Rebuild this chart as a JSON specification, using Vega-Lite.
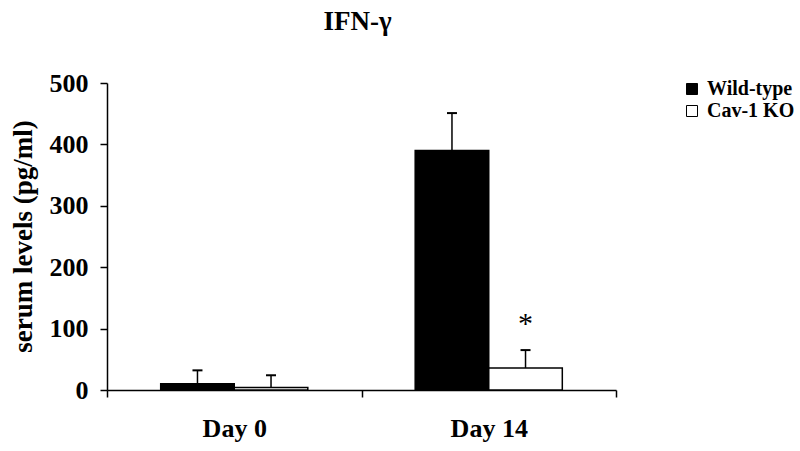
{
  "$schema": "https://vega.github.io/schema/vega-lite/v6.json",
  "width": 509,
  "height": 307,
  "autosize": {"type": "none"},
  "padding": {"left": 107, "top": 83, "right": 184, "bottom": 61},
  "background": "white",
  "config": {"view": {"stroke": null}},
  "title": {"text": "IFN-γ", "font": "Liberation Serif", "fontSize": 27, "fontWeight": "bold", "anchor": "middle", "offset": 34, "color": "black", "dx": -4},
  "data": {"values": [
    {"day": "Day 0", "group": "Wild-type", "mean": 10, "upper": 32, "sig": ""},
    {"day": "Day 0", "group": "Cav-1 KO", "mean": 4, "upper": 24, "sig": ""},
    {"day": "Day 14", "group": "Wild-type", "mean": 390, "upper": 451, "sig": ""},
    {"day": "Day 14", "group": "Cav-1 KO", "mean": 36, "upper": 65, "sig": "*"}
  ]},
  "encoding": {
    "x": {"field": "day", "type": "nominal", "sort": ["Day 0", "Day 14"],
      "scale": {"paddingInner": 0, "paddingOuter": 0},
      "axis": {"title": null, "labelAngle": 0, "labelFont": "Liberation Serif", "labelFontSize": 26, "labelFontWeight": "bold", "labelColor": "black", "labelPadding": 18, "tickBand": "extent", "tickSize": 7, "tickColor": "black", "tickWidth": 1.5, "domainColor": "black", "domainWidth": 1.5}},
    "xOffset": {"field": "group", "type": "nominal", "sort": ["Wild-type", "Cav-1 KO"], "scale": {"paddingInner": 0, "paddingOuter": 0.73}}
  },
  "layer": [
    {
      "mark": {"type": "bar", "stroke": "black", "strokeWidth": 1.5, "opacity": 1},
      "encoding": {
        "y": {"field": "mean", "type": "quantitative", "scale": {"domain": [0, 500], "nice": false},
          "axis": {"title": "serum levels (pg/ml)", "titleFont": "Liberation Serif", "titleFontSize": 27, "titleFontWeight": "bold", "titleColor": "black", "titleAngle": -90, "titleX": -84, "titleY": 153, "titleAlign": "center", "titleBaseline": "middle", "values": [0, 100, 200, 300, 400, 500], "labelFont": "Liberation Serif", "labelFontSize": 26, "labelFontWeight": "bold", "labelColor": "black", "labelPadding": 12, "tickSize": 7, "tickColor": "black", "tickWidth": 1.5, "domainColor": "black", "domainWidth": 1.5, "grid": false, "labelFlush": false, "labelOverlap": false}},
        "fill": {"field": "group", "type": "nominal", "sort": ["Wild-type", "Cav-1 KO"],
          "scale": {"domain": ["Wild-type", "Cav-1 KO"], "range": ["black", "white"]},
          "legend": {"title": null, "orient": "none", "legendX": 575, "legendY": -4, "padding": 0, "symbolType": "square", "symbolSize": 121, "symbolStrokeColor": "black", "symbolStrokeWidth": 1, "symbolOpacity": 1, "labelFont": "Liberation Serif", "labelFontSize": 20, "labelFontWeight": "bold", "labelColor": "black", "labelOffset": 5, "rowPadding": 2}}
      }
    },
    {
      "mark": {"type": "rule", "strokeWidth": 1.5, "color": "black"},
      "encoding": {"y": {"field": "mean", "type": "quantitative"}, "y2": {"field": "upper"}}
    },
    {
      "mark": {"type": "tick", "orient": "horizontal", "size": 10, "thickness": 2, "color": "black", "opacity": 1},
      "encoding": {"y": {"field": "upper", "type": "quantitative"}}
    },
    {
      "transform": [{"filter": "datum.sig == '*'"}],
      "mark": {"type": "text", "font": "Liberation Serif", "fontSize": 30, "color": "black", "baseline": "alphabetic", "dy": -17},
      "encoding": {"y": {"field": "upper", "type": "quantitative"}, "text": {"field": "sig"}}
    }
  ]
}
